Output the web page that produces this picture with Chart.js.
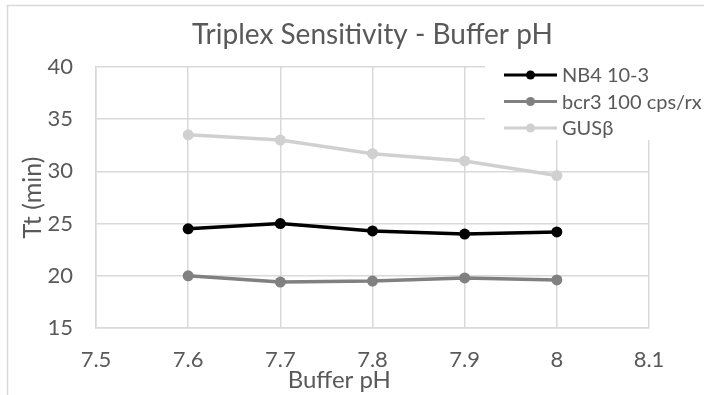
<!DOCTYPE html>
<html>
<head>
<meta charset="utf-8">
<script src="https://cdn.jsdelivr.net/npm/chart.js@4"></script>
<style>
  html, body { margin: 0; padding: 0; background: #fff; }
  #wrap { width: 704px; height: 395px; position: relative; }
</style>
</head>
<body>
<div id="wrap"><canvas id="chart" width="704" height="395"></canvas></div>
<script>
// 데이터
const bufferPh = [7.6, 7.7, 7.8, 7.9, 8.0];
const nb4 = [24.5, 25.0, 24.3, 24.0, 24.2];
const bcr3 = [20.0, 19.4, 19.5, 19.8, 19.6];
const gus = [33.5, 33.0, 31.7, 31.0, 29.6];
const seriesNames = ['NB4 10-3', 'bcr3 100 cps/rx', 'GUSβ'];
const seriesColors = ['#000000', '#808080', '#d0d0d0'];
const xTitle = 'Buffer pH';

const textColor = '#595959';
const gridColor = '#d9d9d9';
const fontFamily = 'Lato, "Open Sans", sans-serif';

const toPoints = vals => bufferPh.map((x, i) => ({ x: x, y: vals[i] }));

// 바깥 테두리
const frame = {
    id: 'frame',
    beforeDraw(chart) {
        const ctx = chart.ctx;
        ctx.save();
        ctx.strokeStyle = gridColor;
        ctx.lineWidth = 1.5;
        ctx.strokeRect(7.5, 5.5, 800, 500);
        ctx.restore();
    }
};

// x축 제목 (원본처럼 약간 왼쪽)
const xAxisTitle = {
    id: 'xAxisTitle',
    afterDraw(chart) {
        const ctx = chart.ctx;
        const area = chart.chartArea;
        ctx.save();
        ctx.fillStyle = textColor;
        ctx.font = '24px ' + fontFamily;
        ctx.textAlign = 'center';
        ctx.textBaseline = 'middle';
        ctx.fillText(xTitle, area.left + (area.right - area.left) * 0.44, chart.height - 15);
        ctx.restore();
    }
};

// 범례 (플롯 안쪽 오른쪽 위)
const insideLegend = {
    id: 'insideLegend',
    afterDraw(chart) {
        const ctx = chart.ctx;
        ctx.save();
        ctx.fillStyle = '#ffffff';
        ctx.fillRect(485, 58, 219, 82);
        chart.data.datasets.forEach((ds, i) => {
            const y = 75 + i * 26.5;
            ctx.strokeStyle = ds.borderColor;
            ctx.lineWidth = 3;
            ctx.beginPath();
            ctx.moveTo(504, y);
            ctx.lineTo(557, y);
            ctx.stroke();
            ctx.fillStyle = ds.borderColor;
            ctx.beginPath();
            ctx.arc(530.5, y, 4.5, 0, Math.PI * 2);
            ctx.fill();
            ctx.fillStyle = textColor;
            ctx.font = '20px ' + fontFamily;
            ctx.textBaseline = 'middle';
            ctx.textAlign = 'left';
            ctx.fillText(ds.label, 562, y + 1);
        });
        ctx.restore();
    }
};

const datasets = [nb4, bcr3, gus].map((vals, i) => ({
    label: seriesNames[i],
    data: toPoints(vals),
    borderColor: seriesColors[i],
    backgroundColor: seriesColors[i],
    borderWidth: 3.5,
    pointRadius: 5.5,
    pointHoverRadius: 5.5,
    pointBorderWidth: 0,
    tension: 0
}));

new Chart(document.getElementById('chart'), {
    type: 'line',
    data: { datasets: datasets },
    plugins: [frame, insideLegend, xAxisTitle],
    options: {
        responsive: false,
        animation: false,
        events: [],
        layout: { padding: { left: 10, right: 55, top: 18, bottom: 0 } },
        plugins: {
            legend: { display: false },
            tooltip: { enabled: false },
            title: {
                display: true,
                fullSize: false,
                text: 'Triplex Sensitivity - Buffer pH',
                color: textColor,
                font: { family: fontFamily, size: 28, weight: 'normal', lineHeight: 1.2 },
                padding: { top: 0, bottom: 15.4 }
            }
        },
        scales: {
            x: {
                type: 'linear',
                min: 7.5,
                max: 8.1,
                ticks: {
                    stepSize: 0.1,
                    padding: 21,
                    color: textColor,
                    font: { family: fontFamily, size: 22, lineHeight: 1 },
                    maxRotation: 0,
                    callback: v => String(Math.round(v * 10) / 10)
                },
                grid: { color: gridColor, lineWidth: 1.5, drawTicks: false },
                border: { color: gridColor, width: 1.5 },
                afterFit: s => { s.height = 67; }
            },
            y: {
                min: 15,
                max: 40,
                ticks: {
                    stepSize: 5,
                    padding: 23,
                    color: textColor,
                    font: { family: fontFamily, size: 22, lineHeight: 1 }
                },
                grid: { color: gridColor, lineWidth: 1.5, drawTicks: false },
                border: { color: gridColor, width: 1.5 },
                title: {
                    display: true,
                    text: 'Tt (min)',
                    color: textColor,
                    font: { family: fontFamily, size: 25, lineHeight: 1.2 },
                    padding: { top: 8, bottom: 0 }
                },
                afterFit: s => { s.width = 86; }
            }
        }
    }
});
</script>
</body>
</html>
